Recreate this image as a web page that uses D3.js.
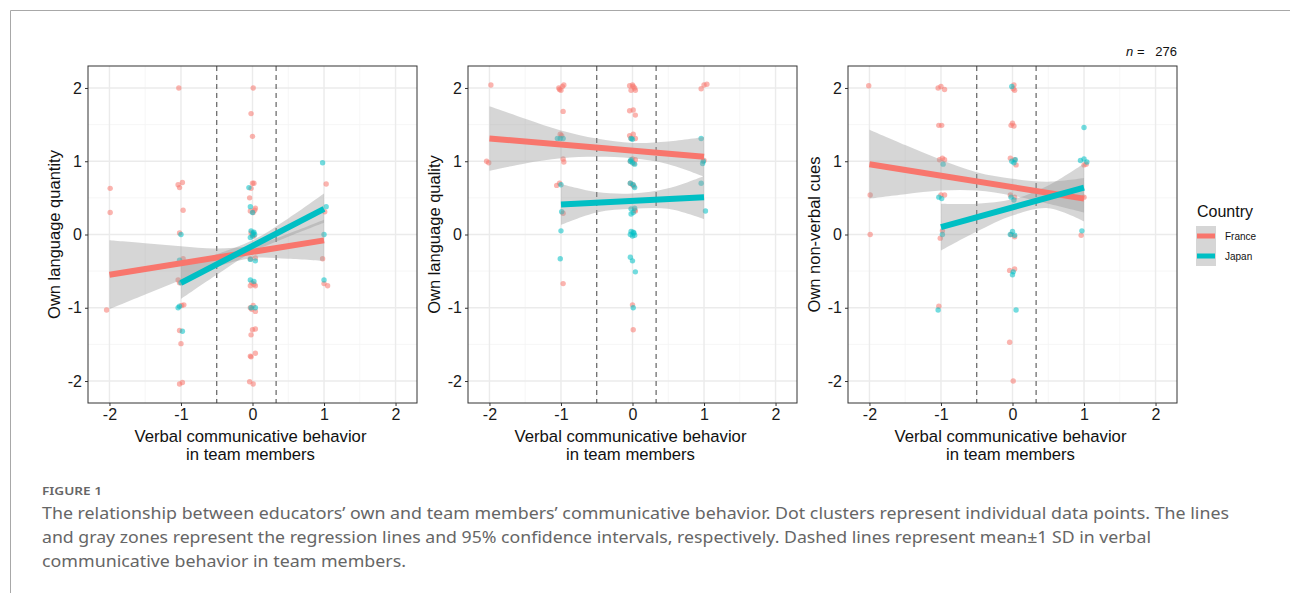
<!DOCTYPE html>
<html lang="en">
  <head>
    <meta charset="UTF-8" />
    <title>Figure 1</title>
    <style>
      body { margin: 0; background: #fff; }
      svg text { font-family: "Liberation Sans", Arial, sans-serif; }
      .caption { font-family: "Noto Sans", sans-serif !important; fill: #666; }
      .fit-line { fill: none; stroke-width: 6; }
      .band { fill: #999; fill-opacity: 0.4; stroke: none; }
    </style>
  </head>
  <body>
    <script src="https://d3js.org/d3.v7.min.js"></script>
    <script>
      // tick labels / texts
      const xTicks = [-2, -1, 0, 1, 2];
      const yTicks = [-2, -1, 0, 1, 2];
      const yTitles = ["Own language quantity", "Own language quality", "Own non-verbal cues"];
      const xTitle = ["Verbal communicative behavior", "in team members"];
      const sdLines = [-0.5, 0.33];
      const countries = ["France", "Japan"];

      // jittered points [x, y]
      const quantityFrance = [
        [-2.04, -1.03], [-1.99, 0.63], [-1.99, 0.3],
        [-1.03, 2.0], [-1.04, 0.68], [-0.98, 0.71], [-1.02, 0.64], [-0.97, 0.33], [-1.02, 0.02],
        [-0.97, -0.33], [-1.04, -0.62], [-1.02, -0.66], [-0.96, -0.96], [-0.99, -0.97],
        [-1.02, -1.31], [-1.0, -1.49], [-1.02, -2.04], [-0.98, -2.02],
        [0.01, 2.0], [-0.02, 1.65], [0.0, 1.34], [0.0, 0.7], [0.02, 0.7], [-0.02, 0.63],
        [-0.04, 0.5], [-0.03, 0.32], [0.04, 0.36], [0.01, 0.3], [0.03, 0.33],
        [-0.02, 0.02], [0.02, -0.02], [0.0, 0.0],
        [-0.03, -0.33], [0.04, -0.32], [-0.03, -0.7], [0.04, -0.7], [-0.01, -0.66], [0.02, -0.68],
        [-0.03, -1.0], [0.04, -1.05], [0.01, -0.97], [-0.01, -1.02], [0.0, -1.3], [0.04, -1.29],
        [-0.02, -1.37], [-0.03, -1.66], [-0.02, -1.67], [0.04, -1.62], [-0.04, -2.01], [0.01, -2.04],
        [1.03, 0.69], [1.01, 0.31], [0.98, -0.33], [1.0, -0.67], [1.05, -0.7],
      ];
      const quantityJapan = [
        [-1.0, 0.0], [-1.02, -0.35], [-1.0, -0.66], [-1.04, -1.0], [-1.02, -0.98], [-0.98, -1.32],
        [-0.05, 0.64], [-0.03, 0.38], [0.0, 0.3], [-0.02, 0.05], [0.02, 0.03], [0.0, -0.02],
        [0.03, 0.0], [-0.03, -0.04], [0.01, 0.02], [-0.03, -0.34], [0.04, -0.36],
        [-0.03, -0.62], [0.02, -0.64], [-0.02, -1.0], [0.04, -1.0],
        [0.98, 0.98], [1.03, 0.38], [1.0, 0.0], [1.0, -0.62],
      ];
      const qualityFrance = [
        [-1.98, 2.04], [-2.04, 1.0], [-2.01, 0.98],
        [-1.03, 2.0], [-0.98, 2.02], [-1.0, 1.97], [-1.02, 1.98], [-0.96, 2.04], [-0.97, 1.68],
        [-1.01, 1.37], [-0.99, 1.35], [-0.97, 1.03], [-0.96, 0.99], [-1.06, 0.67], [-1.02, 0.7],
        [-0.97, 0.29], [-0.97, -0.67],
        [-0.04, 2.03], [0.0, 2.04], [0.03, 2.0], [-0.02, 1.97], [0.04, 1.97], [0.01, 2.02],
        [-0.04, 1.69], [0.01, 1.7], [0.04, 1.63], [-0.04, 1.35], [0.01, 1.37], [-0.02, 1.31],
        [0.04, 1.31], [0.0, 1.03], [0.02, 0.97], [-0.03, 1.0], [0.04, 1.02], [-0.03, 0.7],
        [0.02, 0.66], [0.0, 0.68], [0.04, 0.32], [0.03, 0.33], [0.0, -0.96], [0.01, -1.3],
        [0.96, 1.99], [1.0, 2.04], [1.04, 2.05], [1.0, 1.01],
      ];
      const qualityJapan = [
        [-1.05, 1.31], [-1.01, 1.31], [-0.97, 1.31], [-1.0, 0.68], [-0.99, 0.31], [-1.0, 0.05], [-1.01, -0.33],
        [-0.02, 1.31], [0.0, 1.3], [-0.03, 1.0], [0.0, 0.98], [0.03, 0.96], [-0.02, 1.02],
        [-0.03, 0.7], [0.01, 0.68], [0.03, 0.64], [-0.02, 0.35], [0.01, 0.3], [0.03, 0.36], [-0.02, 0.28],
        [-0.03, 0.0], [0.0, -0.02], [0.02, 0.02], [0.03, -0.01], [-0.02, 0.04], [0.01, 0.03],
        [-0.03, -0.31], [0.0, -0.36], [0.04, -0.51], [0.01, -1.0],
        [0.96, 1.31], [0.98, 0.97], [0.99, 1.0], [0.96, 0.7], [1.02, 0.32],
      ];
      const nonverbalFrance = [
        [-2.01, 2.03], [-1.99, 0.54], [-1.99, 0.0],
        [-1.04, 2.0], [-1.0, 2.02], [-0.95, 1.98], [-1.03, 1.49], [-0.99, 1.49], [-1.02, 1.02],
        [-0.98, 1.04], [-0.95, 1.02], [-1.0, 0.54], [-0.95, 0.54], [-1.01, -0.05], [-0.98, 0.05], [-1.03, -0.98],
        [0.02, 2.04], [0.03, 1.97], [0.01, 1.99], [-0.02, 1.49], [0.0, 1.52], [0.02, 1.48],
        [-0.03, 1.04], [0.03, 1.02], [0.05, 0.95], [-0.03, 0.54], [0.03, 0.51], [-0.02, 0.0],
        [0.03, -0.03], [-0.04, -0.49], [0.03, -0.47], [-0.04, -1.47], [0.01, -2.0],
        [1.0, 0.95], [1.03, 0.96], [1.0, 0.51], [0.96, -0.01],
      ];
      const nonverbalJapan = [
        [-0.97, 0.96], [-1.03, 0.51], [-0.99, 0.49], [-0.98, 0.0], [-1.04, -1.03],
        [-0.01, 2.02], [-0.01, 1.0], [0.02, 0.98], [0.04, 1.02], [-0.02, 0.51], [0.02, 0.47],
        [-0.03, 0.0], [0.03, -0.01], [0.0, 0.04], [0.01, -0.51], [0.0, -0.55], [0.05, -1.03],
        [1.0, 1.46], [0.95, 1.01], [1.0, 1.03], [1.04, 0.99], [0.97, 0.05],
      ];

      // regression lines [x, y]
      const quantityFranceFit = [[-2, -0.55], [1, -0.08]];
      const quantityJapanFit = [[-1, -0.66], [1, 0.35]];
      const qualityFranceFit = [[-2, 1.31], [1, 1.06]];
      const qualityJapanFit = [[-1, 0.41], [1, 0.51]];
      const nonverbalFranceFit = [[-2, 0.96], [1, 0.49]];
      const nonverbalJapanFit = [[-1, 0.1], [1, 0.64]];

      // 95% CI bands [x, lower, upper]
      const quantityFranceBand = [
        [-2, -1.02, -0.08], [-1.5, -0.82, -0.12], [-1, -0.62, -0.16], [-0.5, -0.44, -0.19],
        [0, -0.32, -0.15], [0.5, -0.33, 0.01], [1, -0.36, 0.2],
      ];
      const quantityJapanBand = [
        [-1, -0.88, -0.42], [-0.5, -0.55, -0.27], [0, -0.24, -0.08], [0.5, -0.03, 0.22], [1, 0.16, 0.56],
      ];
      const qualityFranceBand = [
        [-2, 0.87, 1.75], [-1.5, 0.97, 1.58], [-1, 1.04, 1.42], [-0.5, 1.06, 1.31],
        [0, 1.04, 1.25], [0.5, 0.96, 1.27], [1, 0.79, 1.33],
      ];
      const qualityJapanBand = [
        [-1, 0.13, 0.69], [-0.5, 0.3, 0.58], [0, 0.35, 0.56], [0.5, 0.35, 0.63], [1, 0.21, 0.8],
      ];
      const nonverbalFranceBand = [
        [-2, 0.49, 1.43], [-1.5, 0.55, 1.22], [-1, 0.6, 1.02], [-0.5, 0.6, 0.85],
        [0, 0.53, 0.76], [0.5, 0.42, 0.72], [1, 0.3, 0.77],
      ];
      const nonverbalJapanBand = [
        [-1, -0.22, 0.42], [-0.5, 0.04, 0.42], [0, 0.26, 0.48], [0.5, 0.36, 0.67], [1, 0.18, 0.97],
      ];

      const sampleSize = 276;
      const figureLabel = "FIGURE 1";
      const captionLines = [
        "The relationship between educators\u2019 own and team members\u2019 communicative behavior. Dot clusters represent individual data points. The lines",
        "and gray zones represent the regression lines and 95% confidence intervals, respectively. Dashed lines represent mean\u00b11 SD in verbal",
        "communicative behavior in team members.",
      ];

      const panels = [
        { title: yTitles[0], France: [quantityFrance, quantityFranceFit, quantityFranceBand], Japan: [quantityJapan, quantityJapanFit, quantityJapanBand] },
        { title: yTitles[1], France: [qualityFrance, qualityFranceFit, qualityFranceBand], Japan: [qualityJapan, qualityJapanFit, qualityJapanBand] },
        { title: yTitles[2], France: [nonverbalFrance, nonverbalFranceFit, nonverbalFranceBand], Japan: [nonverbalJapan, nonverbalJapanFit, nonverbalJapanBand] },
      ];

      const color = d3.scaleOrdinal().domain(countries).range(["#F8766D", "#00BFC4"]);

      const W = 1290, H = 593;
      const panelLeft = [88, 468, 848];
      const panelTop = 66;
      const pw = 329, ph = 337;

      const svg = d3.select("body").append("svg").attr("width", W).attr("height", H);

      // page frame
      svg.append("path")
        .attr("d", `M10.5,${H} V10.5 H${W}`)
        .attr("fill", "none").attr("stroke", "#a8a8a8").attr("stroke-width", 1);

      const x = d3.scaleLinear().domain([-2.3, 2.3]).range([0, pw]);
      const y = d3.scaleLinear().domain([-2.3, 2.3]).range([ph, 0]);

      const band = d3.area()
        .x((d) => x(d[0])).y0((d) => y(d[1])).y1((d) => y(d[2]))
        .curve(d3.curveCatmullRom);
      const line = d3.line().x((d) => x(d[0])).y((d) => y(d[1]));

      panels.forEach((p, i) => {
        const g = svg.append("g").attr("transform", `translate(${panelLeft[i]},${panelTop})`);

        // grid
        const minor = [-1.5, -0.5, 0.5, 1.5];
        g.append("g").selectAll("line").data(minor).join("line")
          .attr("x1", (d) => x(d)).attr("x2", (d) => x(d)).attr("y1", 0).attr("y2", ph)
          .attr("stroke", "#f4f4f4").attr("stroke-width", 0.8);
        g.append("g").selectAll("line").data(minor).join("line")
          .attr("y1", (d) => y(d)).attr("y2", (d) => y(d)).attr("x1", 0).attr("x2", pw)
          .attr("stroke", "#f4f4f4").attr("stroke-width", 0.8);
        g.append("g").selectAll("line").data(xTicks).join("line")
          .attr("x1", (d) => x(d)).attr("x2", (d) => x(d)).attr("y1", 0).attr("y2", ph)
          .attr("stroke", "#ebebeb").attr("stroke-width", 1.4);
        g.append("g").selectAll("line").data(yTicks).join("line")
          .attr("y1", (d) => y(d)).attr("y2", (d) => y(d)).attr("x1", 0).attr("x2", pw)
          .attr("stroke", "#ebebeb").attr("stroke-width", 1.4);

        // points
        countries.forEach((c) => {
          g.append("g").selectAll("circle").data(p[c][0]).join("circle")
            .attr("cx", (d) => x(d[0])).attr("cy", (d) => y(d[1])).attr("r", 2.7)
            .attr("fill", color(c)).attr("fill-opacity", 0.55);
        });

        // mean ± 1 SD
        g.append("g").selectAll("line").data(sdLines).join("line")
          .attr("x1", (d) => x(d)).attr("x2", (d) => x(d)).attr("y1", 0).attr("y2", ph)
          .attr("stroke", "#555").attr("stroke-width", 1.1).attr("stroke-dasharray", "5,4");

        countries.forEach((c) => {
          g.append("path").datum(p[c][2]).attr("class", "band").attr("d", band);
        });
        countries.forEach((c) => {
          g.append("path").datum(p[c][1]).attr("class", "fit-line")
            .attr("stroke", color(c)).attr("d", line);
        });

        // border
        g.append("rect").attr("width", pw).attr("height", ph)
          .attr("fill", "none").attr("stroke", "#333").attr("stroke-width", 1);

        // axes
        const ax = g.append("g").attr("transform", `translate(0,${ph})`)
          .call(d3.axisBottom(x).tickValues(xTicks).tickSize(3).tickPadding(3).tickFormat((d) => String(d)));
        const ay = g.append("g")
          .call(d3.axisLeft(y).tickValues(yTicks).tickSize(3).tickPadding(3).tickFormat((d) => String(d)));
        [ax, ay].forEach((a) => {
          a.select(".domain").remove();
          a.selectAll(".tick line").attr("stroke", "#333");
          a.selectAll(".tick text").attr("fill", "#1a1a1a")
            .style("font-size", "16px").style("font-family", "Liberation Sans, Arial, sans-serif");
        });

        // titles
        g.append("text").attr("transform", `translate(-28,${ph / 2}) rotate(-90)`)
          .attr("text-anchor", "middle").attr("font-size", 16.5).attr("fill", "#111").text(p.title);
        g.append("g").selectAll("text").data(xTitle).join("text")
          .attr("x", pw / 2 - 2).attr("y", (d, k) => ph + 39 + k * 18)
          .attr("text-anchor", "middle").attr("font-size", 16.7).attr("fill", "#111").text((d) => d);
      });

      // n label
      const nLab = svg.append("text").attr("x", panelLeft[2] + pw).attr("y", 56)
        .attr("text-anchor", "end").attr("font-size", 13).attr("fill", "#111");
      nLab.append("tspan").attr("font-style", "italic").text("n");
      nLab.append("tspan").attr("xml:space", "preserve").style("white-space", "pre").text(" =   " + sampleSize);

      // legend
      const leg = svg.append("g").attr("transform", "translate(1196,0)");
      leg.append("text").attr("x", 1).attr("y", 217).attr("font-size", 16).attr("fill", "#111").text("Country");
      countries.forEach((c, k) => {
        const ky = 226 + k * 20;
        leg.append("rect").attr("x", 0).attr("y", ky).attr("width", 20).attr("height", 20)
          .attr("fill", "#999").attr("fill-opacity", 0.4);
        leg.append("line").attr("x1", 1).attr("x2", 19).attr("y1", ky + 10).attr("y2", ky + 10)
          .attr("stroke", color(c)).attr("stroke-width", 5);
        leg.append("text").attr("x", 29).attr("y", ky + 14).attr("font-size", 10).attr("fill", "#111").text(c);
      });

      // caption
      svg.append("text").attr("class", "caption").attr("x", 42).attr("y", 495)
        .attr("font-size", 11).attr("font-weight", 600).attr("textLength", 60)
        .attr("lengthAdjust", "spacingAndGlyphs").text(figureLabel);
      const capWidths = [1187, 1109, 364];
      svg.append("g").selectAll("text").data(captionLines).join("text")
        .attr("class", "caption").attr("x", 42).attr("y", (d, k) => 519 + k * 24)
        .attr("font-size", 16).attr("textLength", (d, k) => capWidths[k])
        .attr("lengthAdjust", "spacingAndGlyphs").text((d) => d);
    </script>
  </body>
</html>
